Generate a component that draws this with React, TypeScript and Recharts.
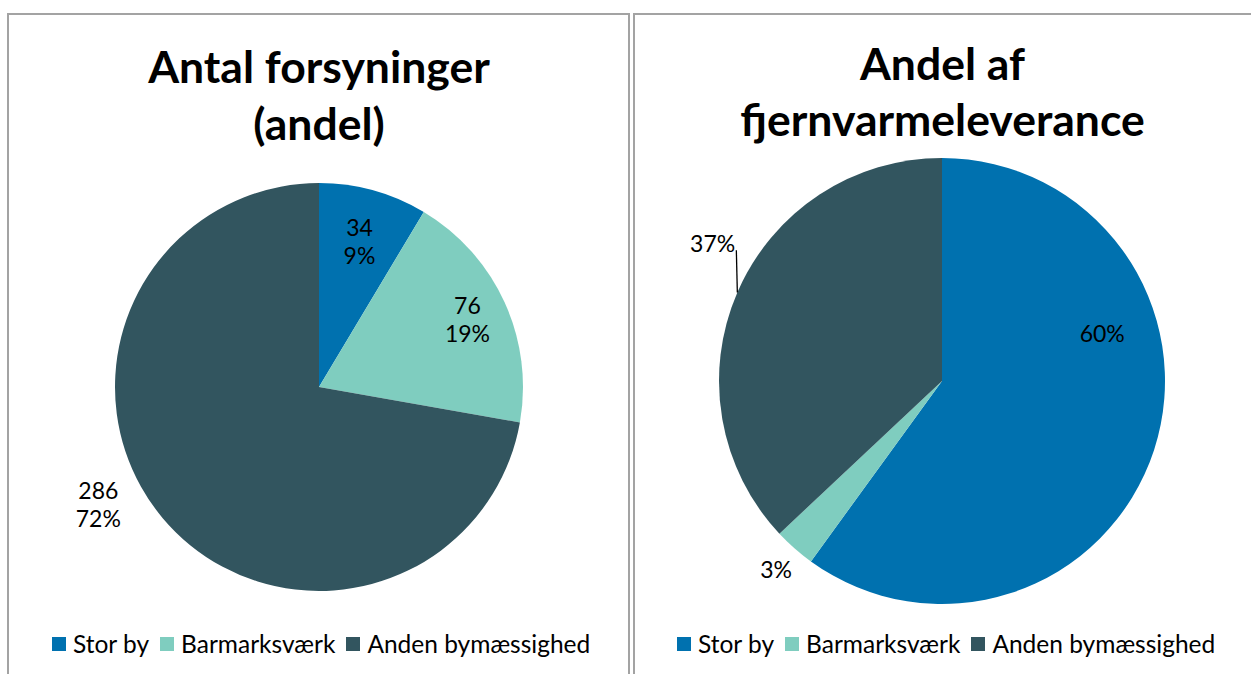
import React from 'react';
import { PieChart, Pie, Cell, Legend } from 'recharts';

const categories = ['Stor by', 'Barmarksværk', 'Anden bymæssighed'];
const supplyCounts = [34, 76, 286];
const deliveryShares = [60, 3, 37];
const sliceColors = ['#0071AF', '#7FCDBF', '#32555F'];
const leftTitle = ['Antal forsyninger', '(andel)'];
const rightTitle = ['Andel af', 'fjernvarmeleverance'];

const FONT = 'Lato, "Open Sans", sans-serif';
const RAD = Math.PI / 180;

const leftData = categories.map((name, i) => ({ name, value: supplyCounts[i] }));
const rightData = categories.map((name, i) => ({ name, value: deliveryShares[i] }));

// label placement (style): radius factor and angle shift per slice
const leftLabelPlacement = [
  { r: 0.745, da: 0 },
  { r: 0.8, da: 0 },
  { r: 1.225, da: -12 },
];
const rightLabelPlacement = [
  { r: 0.75, da: 34.7 },
  { r: 1.125, da: 0 },
  { r: 1.2, da: -7.6 },
];

const ZERO = { top: 0, right: 0, bottom: 0, left: 0 };

function makeLabel(placement: { r: number; da: number }[], showValue: boolean, leaderIndex: number) {
  return (props: any) => {
    const { cx, cy, midAngle, outerRadius, index, value, percent } = props;
    const p = placement[index];
    const a = (midAngle + p.da) * RAD;
    const x = cx + outerRadius * p.r * Math.cos(a);
    const y = cy - outerRadius * p.r * Math.sin(a);
    const pct = Math.round(percent * 100) + '%';
    const ma = midAngle * RAD;
    const ex = cx + outerRadius * Math.cos(ma);
    const ey = cy - outerRadius * Math.sin(ma);
    return (
      <g key={`lbl-${index}`}>
        {index === leaderIndex && (
          <line x1={ex} y1={ey} x2={ex - 1} y2={y + 7} stroke="#000" strokeWidth={1.3} />
        )}
        {showValue ? (
          <text x={x} y={y} textAnchor="middle" fill="#000" fontFamily={FONT} fontSize={23}>
            <tspan x={x} y={y - 14} dominantBaseline="central">{value}</tspan>
            <tspan x={x} y={y + 14} dominantBaseline="central">{pct}</tspan>
          </text>
        ) : (
          <text x={x} y={y} textAnchor="middle" dominantBaseline="central" fill="#000" fontFamily={FONT} fontSize={23}>
            {pct}
          </text>
        )}
      </g>
    );
  };
}

const renderLegend = () => (
  <div style={{ display: 'flex', alignItems: 'center', fontFamily: FONT, fontSize: 24.5, lineHeight: '30px', color: '#000', whiteSpace: 'nowrap' }}>
    {categories.map((c, i) => (
      <span key={c} style={{ display: 'inline-flex', alignItems: 'center', marginRight: 11 }}>
        <span style={{ display: 'inline-block', width: 14, height: 14, background: sliceColors[i], marginRight: 7 }} />
        {c}
      </span>
    ))}
  </div>
);

const titleStyle: React.CSSProperties = {
  position: 'absolute',
  fontFamily: FONT,
  fontWeight: 700,
  fontSize: 44.5,
  textAlign: 'center',
  color: '#000',
};

export default function App() {
  return (
    <div style={{ position: 'fixed', left: 0, top: 0, width: 1251, height: 674, overflow: 'hidden', background: '#fff' }}>
      <div style={{ position: 'absolute', left: 7, top: 13, width: 619, height: 700, border: '2px solid #A3A3A3' }} />
      <div style={{ position: 'absolute', left: 633, top: 13, width: 640, height: 700, border: '2px solid #A3A3A3' }} />

      <div style={{ ...titleStyle, left: 8, width: 622, top: 37, lineHeight: '57px' }}>
        {leftTitle.map((t) => (<div key={t}>{t}</div>))}
      </div>
      <div style={{ ...titleStyle, left: 634, width: 617, top: 35, lineHeight: '56px' }}>
        {rightTitle.map((t) => (<div key={t}>{t}</div>))}
      </div>

      <div style={{ position: 'absolute', left: 0, top: 0 }}>
        <PieChart width={630} height={674} margin={ZERO}>
          <Pie
            data={leftData}
            dataKey="value"
            nameKey="name"
            cx={319}
            cy={387}
            outerRadius={204}
            startAngle={90}
            endAngle={-270}
            stroke="none"
            isAnimationActive={false}
            labelLine={false}
            label={makeLabel(leftLabelPlacement, true, -1)}
          >
            {leftData.map((d, i) => (<Cell key={d.name} fill={sliceColors[i]} />))}
          </Pie>
          <Legend content={renderLegend} wrapperStyle={{ left: 52, top: 629, width: 'auto', bottom: 'auto' }} />
        </PieChart>
      </div>

      <div style={{ position: 'absolute', left: 630, top: 0 }}>
        <PieChart width={621} height={674} margin={ZERO}>
          <Pie
            data={rightData}
            dataKey="value"
            nameKey="name"
            cx={312}
            cy={381}
            outerRadius={223}
            startAngle={90}
            endAngle={-270}
            stroke="none"
            isAnimationActive={false}
            labelLine={false}
            label={makeLabel(rightLabelPlacement, false, 2)}
          >
            {rightData.map((d, i) => (<Cell key={d.name} fill={sliceColors[i]} />))}
          </Pie>
          <Legend content={renderLegend} wrapperStyle={{ left: 47, top: 629, width: 'auto', bottom: 'auto' }} />
        </PieChart>
      </div>
    </div>
  );
}
